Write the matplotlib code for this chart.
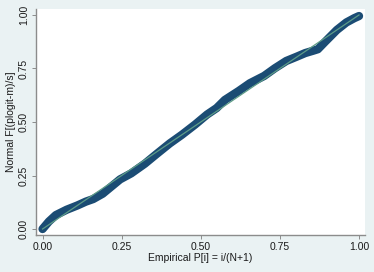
"""gráfico P-P normal (estilo Stata pnorm)."""

import matplotlib

matplotlib.use("Agg")
import matplotlib.pyplot as plt

# valores
empirical_p = [0.0, 0.02, 0.042, 0.076, 0.11, 0.137, 0.16, 0.19, 0.245, 0.28,
               0.323, 0.36, 0.402, 0.44, 0.482, 0.52, 0.55, 0.576, 0.62, 0.655,
               0.7, 0.734, 0.77, 0.803, 0.83, 0.855, 0.87, 0.893, 0.93, 0.96,
               0.985, 1.0]
normal_f = [0.0, 0.035, 0.065, 0.09, 0.11, 0.128, 0.14, 0.165, 0.232, 0.26,
            0.305, 0.35, 0.40, 0.44, 0.488, 0.535, 0.565, 0.603, 0.645, 0.681,
            0.715, 0.751, 0.785, 0.805, 0.822, 0.833, 0.84, 0.875, 0.93, 0.965,
            0.985, 0.995]
ref_line = [0.0, 1.0]
tick_values = [0.0, 0.25, 0.5, 0.75, 1.0]
tick_labels = ["0.00", "0.25", "0.50", "0.75", "1.00"]

BG = "#eaf2f3"
NAVY = "#1b4c74"
GREEN = "#5e9c88"
AXIS = "#8c8c8c"
TEXT = "#1a1a1a"

plt.rcParams["font.family"] = ["Liberation Sans", "DejaVu Sans"]

fig = plt.figure(figsize=(3.74, 2.72), dpi=100, facecolor=BG)
ax = fig.add_axes([0.096, 0.136, 0.880, 0.831])
ax.set_facecolor("white")

ax.plot(empirical_p, normal_f, color=NAVY, linewidth=6,
        solid_capstyle="round", solid_joinstyle="round", zorder=2)
ax.plot(ref_line, ref_line, color=GREEN, linewidth=0.9, zorder=3)

ax.set_xlim(-0.021, 1.019)
ax.set_ylim(-0.028, 1.028)

for side in ["top", "right"]:
    ax.spines[side].set_visible(False)
for side in ["left", "bottom"]:
    ax.spines[side].set_color(AXIS)
    ax.spines[side].set_linewidth(1.0)

ax.set_xticks(tick_values)
ax.set_xticklabels(tick_labels)
ax.set_yticks(tick_values)
ax.set_yticklabels(tick_labels, rotation=90, va="center")
ax.tick_params(axis="both", length=3, width=0.7, color=AXIS, labelsize=7.5,
               labelcolor=TEXT, pad=2)

ax.set_xlabel("Empirical P[i] = i/(N+1)", fontsize=7.5, color=TEXT, labelpad=1)
ax.set_ylabel("Normal F[(plogit-m)/s]", fontsize=7.5, color=TEXT, labelpad=2)

fig.savefig("out.png", dpi=100, facecolor=BG)
